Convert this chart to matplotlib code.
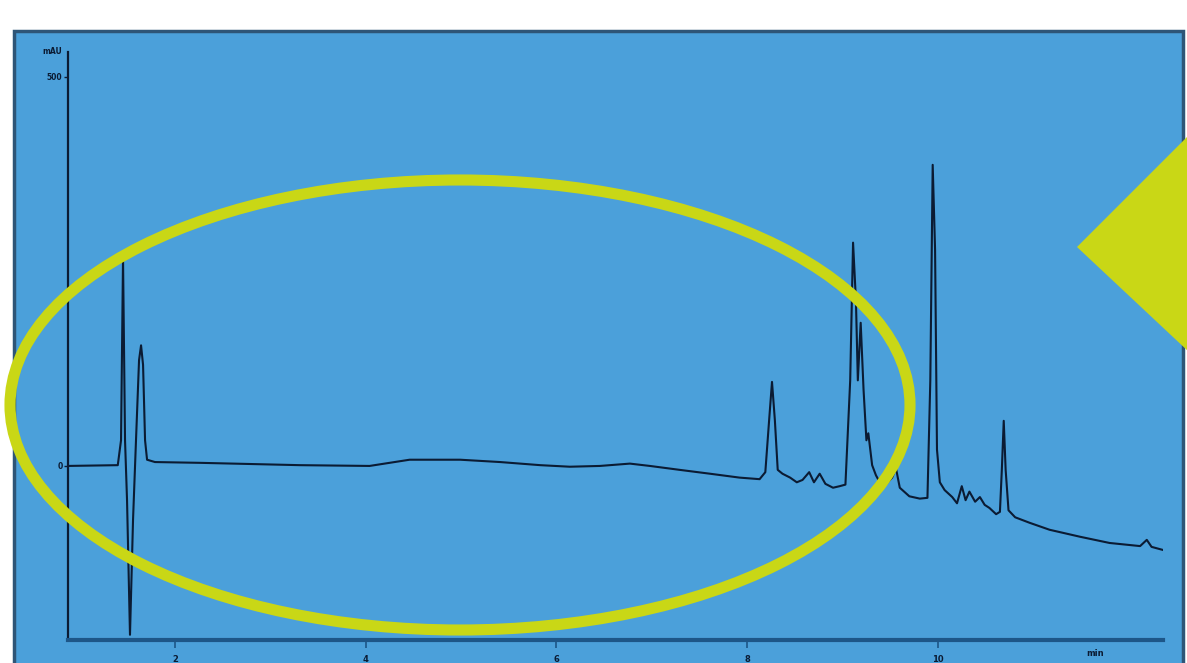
import numpy as np
import matplotlib.pyplot as plt
from matplotlib.patches import Rectangle, Ellipse, Polygon

# chromatogram (time in min, signal in mAU)
t_min = [0.87, 1.40, 1.434, 1.455, 1.476, 1.497, 1.528, 1.560, 1.591, 1.623, 1.644, 1.665,
         1.686, 1.707, 1.79, 2.26, 3.31, 4.04, 4.25, 4.46, 4.99, 5.41, 5.83, 6.14, 6.455,
         6.77, 6.98, 7.29, 7.61, 7.92, 8.13, 8.19, 8.23, 8.26, 8.29, 8.32, 8.37, 8.45,
         8.52, 8.58, 8.65, 8.70, 8.76, 8.82, 8.90, 8.97, 9.03, 9.08, 9.11, 9.14, 9.16,
         9.19, 9.22, 9.25, 9.27, 9.31, 9.35, 9.39, 9.45, 9.52, 9.56, 9.60, 9.70, 9.81,
         9.89, 9.92, 9.945, 9.97, 9.99, 10.02, 10.07, 10.15, 10.20, 10.25, 10.29, 10.33,
         10.39, 10.44, 10.49, 10.54, 10.61, 10.65, 10.67, 10.69, 10.71, 10.74, 10.81,
         10.96, 11.17, 11.49, 11.80, 12.12, 12.19, 12.24, 12.36]
mau = [0, 1, 33, 267, 33, -44, -217, -69, 33, 136, 155, 130,
       33, 8, 5, 4, 1, 0, 4, 8, 8, 5, 1, -1, 0,
       3, 0, -5, -10, -15, -17, -8, 59, 108, 59, -5, -10, -15,
       -21, -18, -8, -21, -10, -23, -28, -26, -24, 110, 287, 213, 110,
       184, 98, 33, 42, 1, -12, -21, -24, -15, -3, -28, -39, -42,
       -41, 110, 387, 278, 21, -21, -31, -40, -48, -26, -44, -33,
       -46, -40, -50, -54, -62, -59, -5, 58, -5, -57, -66,
       -73, -82, -91, -99, -103, -95, -104, -108]

x_ticks = [2, 4, 6, 8, 10]
y_ticks = [0, 500]

W, H = 1187, 663
bg_blue = '#4BA0DA'
ink = '#0B1B33'
yellow = '#C9D716'

fig = plt.figure(figsize=(W / 100, H / 100), dpi=100)
fig.patch.set_facecolor('white')

# blue panel with dark frame
fig.patches.append(Rectangle((14 / W, -0.05), (1183 - 14) / W, 1.05 - 31 / H,
                             transform=fig.transFigure, facecolor=bg_blue,
                             edgecolor='#2E5577', lw=2.5, zorder=-2))

ax = fig.add_axes([68 / W, 1 - 640 / H, (1163 - 68) / W, (640 - 52) / H])
ax.set_zorder(1)
ax.set_facecolor('none')
ax.plot(t_min, mau, color=ink, lw=1.5, zorder=2)
ax.set_xlim(0.878, 12.36)
ax.set_ylim(-223.7, 532)

for s in ['top', 'right']:
    ax.spines[s].set_visible(False)
ax.spines['left'].set_color(ink)
ax.spines['left'].set_linewidth(1.6)
ax.spines['bottom'].set_color('#1D5688')
ax.spines['bottom'].set_linewidth(3)

ax.set_xticks(x_ticks)
ax.set_xticklabels([str(v) for v in x_ticks])
ax.set_yticks(y_ticks)
ax.set_yticklabels([str(v) for v in y_ticks])
ax.tick_params(axis='x', direction='out', length=6, width=1.2, colors='#1D5688',
               labelcolor=ink, labelsize=6, pad=5)
ax.tick_params(axis='y', direction='out', length=3, width=1, colors=ink,
               labelsize=5.5, pad=1)
for lab in ax.get_xticklabels() + ax.get_yticklabels():
    lab.set_fontweight('bold')
ax.text(1095 / W, 1 - 658 / H, 'min', transform=fig.transFigure, fontsize=6,
        fontweight='bold', color=ink, ha='center', va='bottom')
ax.text(62 / W, 1 - 52 / H, 'mAU', transform=fig.transFigure, fontsize=5.5,
        fontweight='bold', color=ink, ha='right', va='center')

# yellow highlight ellipse and pointer
fig.patches.append(Ellipse((460 / W, 1 - 405 / H), 900 / W, 450 / H,
                           transform=fig.transFigure, fill=False,
                           edgecolor=yellow, lw=8, zorder=3))
fig.patches.append(Polygon([(1077 / W, 1 - 247 / H), (1205 / W, 1 - 119 / H),
                            (1205 / W, 1 - 367 / H)], closed=True,
                           transform=fig.transFigure, facecolor=yellow,
                           edgecolor='none', zorder=3))

fig.savefig('out.png', dpi=100, facecolor=fig.get_facecolor())
